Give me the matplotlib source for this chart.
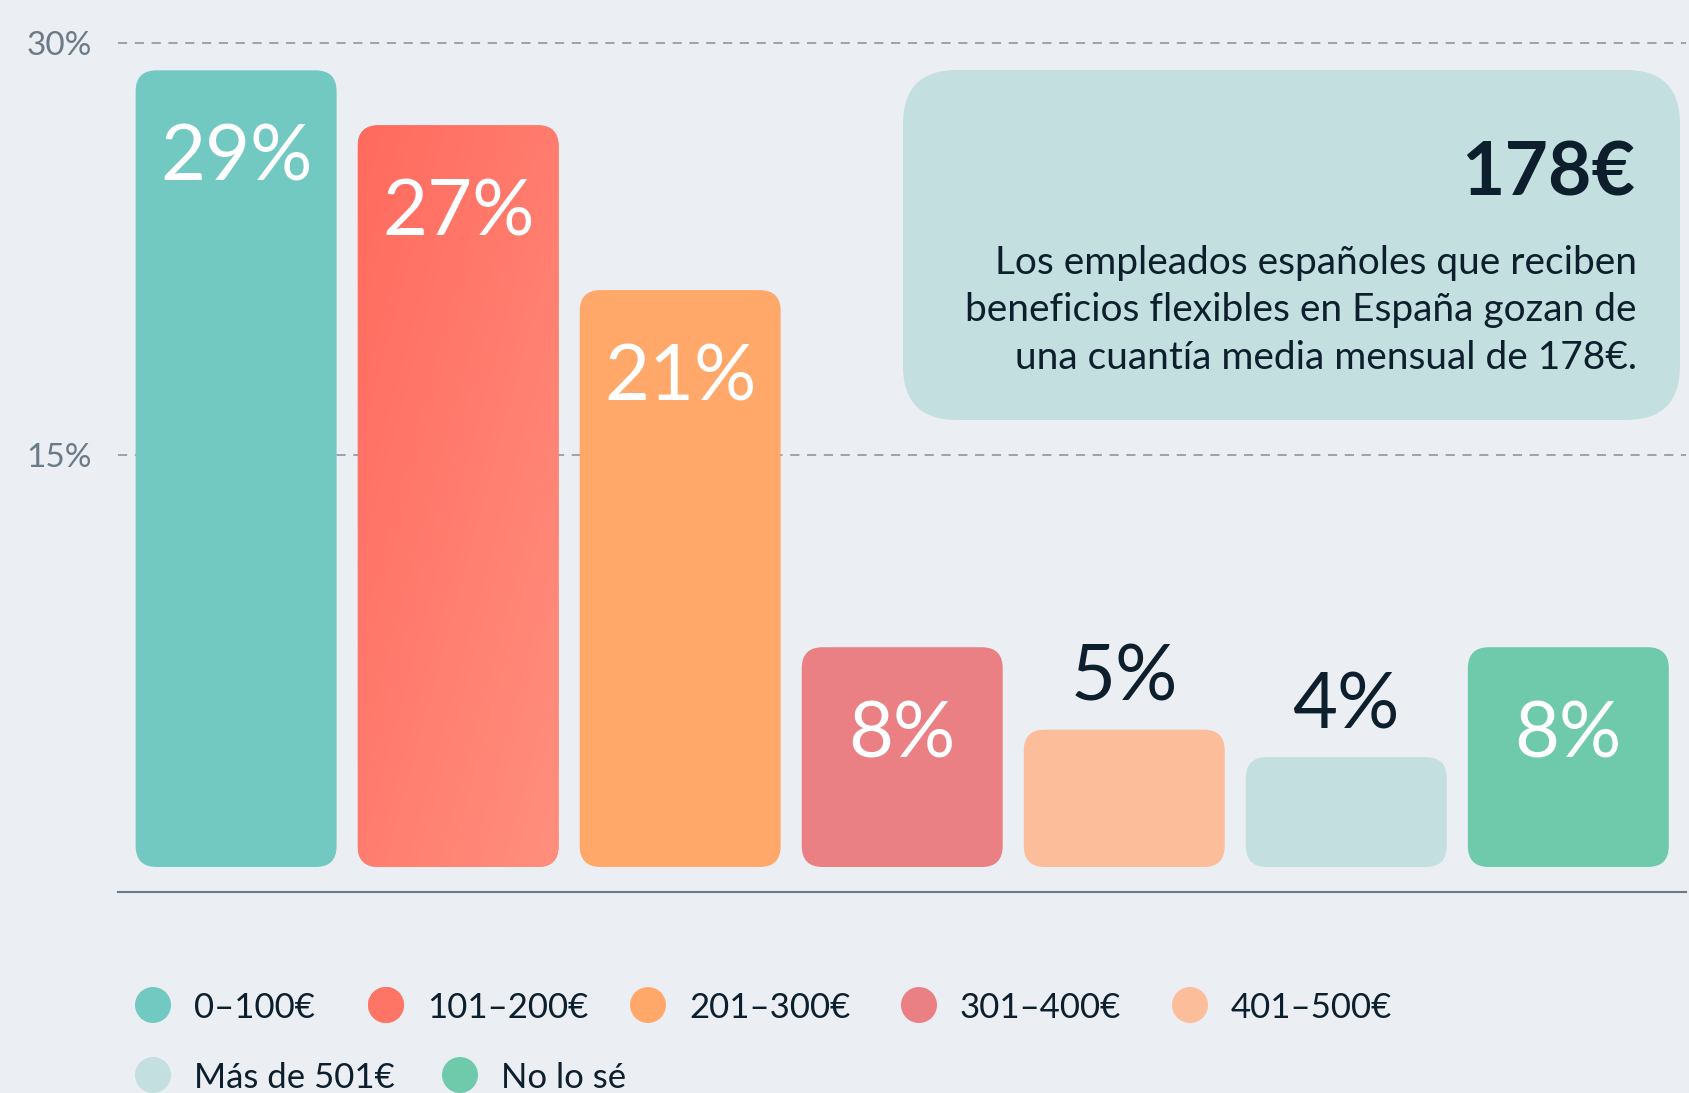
import matplotlib
matplotlib.use('Agg')
import matplotlib.pyplot as plt
import numpy as np
from matplotlib.patches import FancyBboxPatch, Circle
from matplotlib.colors import LinearSegmentedColormap

# ---------------- data ----------------
categories = ['0–100€', '101–200€', '201–300€', '301–400€', '401–500€', 'Más de 501€', 'No lo sé']
values = [29, 27, 21, 8, 5, 4, 8]
value_labels = ['29%', '27%', '21%', '8%', '5%', '4%', '8%']
y_ticks = [15, 30]
y_tick_labels = ['15%', '30%']
highlight_value = '178€'
highlight_lines = ['Los empleados españoles que reciben',
                   'beneficios flexibles en España gozan de',
                   'una cuantía media mensual de 178€.']

# ---------------- style ----------------
BG = '#ebeef3'
DARK = '#0d1f2d'
GRAY = '#6b7a86'
colors = ['#72c9c2', '#ff7565', '#ffa86a', '#ea7f84', '#fcbd9a', '#c4dfe0', '#6ecaaa']
grad_idx = 1
grad_cmap = LinearSegmentedColormap.from_list('g', ['#ff6a5e', '#ff8f7e'])
label_inside = [True, True, True, True, False, False, True]
FONT = ['Lato', 'DejaVu Sans']
plt.rcParams['font.family'] = FONT

W, H, DPI = 1689, 1093, 100
fig = plt.figure(figsize=(W / DPI, H / DPI), dpi=DPI)
fig.patch.set_facecolor(BG)


def px_box(left, top, right, bottom):
    return [left / W, 1 - bottom / H, (right - left) / W, (bottom - top) / H]


ax = fig.add_axes(px_box(118, 0, 1686, 892))
ax.set_facecolor(BG)
x = np.arange(len(values))
xlim = (-0.532, 6.53)
ylim = (-0.91, 31.56)
ax.set_xlim(*xlim)
ax.set_ylim(*ylim)
ax.set_autoscale_on(False)

# pixels per data unit
ax_w_px = (1686 - 118)
ax_h_px = 892
ppx = ax_w_px / (xlim[1] - xlim[0])
ppy = ax_h_px / (ylim[1] - ylim[0])
aspect = ppx / ppy
r_px = 21

bars = ax.bar(x, values, width=0.905, color=colors, zorder=2)
for i, b in enumerate(bars):
    bx, by = b.get_x(), b.get_y()
    bw, bh = b.get_width(), b.get_height()
    b.set_visible(False)
    fp = FancyBboxPatch((bx, by), bw, bh,
                        boxstyle=f'round,pad=0,rounding_size={r_px / ppx}',
                        mutation_aspect=aspect, facecolor=colors[i],
                        edgecolor='none', zorder=2)
    ax.add_patch(fp)
    if i == grad_idx:
        n = 200
        cc, rr = np.meshgrid(np.linspace(0, 1, n), np.linspace(0, 1, n))
        g = (cc + rr) / 2
        im = ax.imshow(g, extent=(bx, bx + bw, by, by + bh), origin='upper',
                       cmap=grad_cmap, aspect='auto', zorder=2.5, interpolation='bilinear')
        im.set_clip_path(fp)

for i, (v, lab) in enumerate(zip(values, value_labels)):
    if label_inside[i]:
        ax.annotate(lab, xy=(x[i], v), xytext=(0, -110), textcoords='offset pixels',
                    ha='center', va='baseline', color='white', fontsize=56, zorder=4)
    else:
        ax.annotate(lab, xy=(x[i], v), xytext=(0, 29), textcoords='offset pixels',
                    ha='center', va='baseline', color=DARK, fontsize=56, zorder=4)

ax.set_xticks([])
ax.set_yticks(y_ticks)
ax.set_yticklabels(y_tick_labels)
ax.tick_params(axis='y', length=0, pad=19, labelsize=24, labelcolor=GRAY)
ax.set_axisbelow(True)
ax.yaxis.grid(True, color='#83909c', linewidth=1.1, linestyle=(0, (6, 5)))
for s in ['top', 'right', 'left']:
    ax.spines[s].set_visible(False)
ax.spines['bottom'].set_color(GRAY)
ax.spines['bottom'].set_linewidth(1.5)

# ---------------- overlay (pixel coordinates) ----------------
oax = fig.add_axes([0, 0, 1, 1])
oax.set_xlim(0, W)
oax.set_ylim(H, 0)
oax.axis('off')
oax.patch.set_alpha(0)
oax.set_zorder(5)

box = FancyBboxPatch((903, 70), 777, 350, boxstyle='round,pad=0,rounding_size=54',
                     facecolor='#c4dfe0', edgecolor='none')
oax.add_patch(box)
oax.text(1635, 196, highlight_value, ha='right', va='baseline', fontsize=54,
         fontweight='bold', color=DARK)
for j, line in enumerate(highlight_lines):
    oax.text(1637, 274 + j * 47.5, line, ha='right', va='baseline', fontsize=28,
             color=DARK)

# legend
leg_pos = [(153, 1005), (386, 1005), (648, 1005), (919, 1005), (1190, 1005),
           (153, 1075), (460, 1075)]
for i, (cat, (cx, cy)) in enumerate(zip(categories, leg_pos)):
    c = Circle((cx, cy), 18, facecolor=colors[i], edgecolor='none')
    oax.add_patch(c)
    if i == grad_idx:
        n = 100
        cc, rr = np.meshgrid(np.linspace(0, 1, n), np.linspace(0, 1, n))
        im = oax.imshow((cc + rr) / 2, extent=(cx - 18, cx + 18, cy + 18, cy - 18),
                        origin='upper', cmap=grad_cmap, aspect='auto', interpolation='bilinear')
        im.set_clip_path(c)
    oax.text(cx + 41, cy + 13, cat, ha='left', va='baseline', fontsize=25, color=DARK)
oax.set_xlim(0, W)
oax.set_ylim(H, 0)

fig.savefig('out.png', dpi=DPI, facecolor=BG)
